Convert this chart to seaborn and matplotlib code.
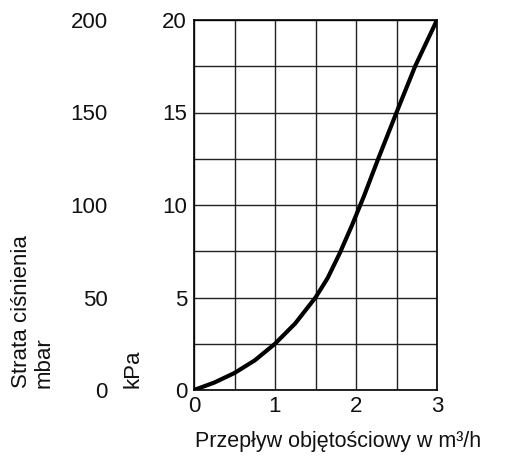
import matplotlib
matplotlib.use("Agg")
import matplotlib.pyplot as plt
import numpy as np
import pandas as pd
import seaborn as sns

# Pressure drop curve: volume flow (m³/h) vs. pressure loss (kPa)
flow = [0.0, 0.25, 0.5, 0.75, 1.0, 1.25, 1.5, 1.65, 1.8, 1.95, 2.1, 2.27, 2.5, 2.73, 3.0]
loss_kpa = [0.0, 0.4, 0.92, 1.6, 2.5, 3.6, 5.0, 6.05, 7.4, 8.9, 10.5, 12.45, 15.0, 17.5, 20.0]

x_ticks = [0, 1, 2, 3]
kpa_ticks = [0, 5, 10, 15, 20]
mbar_ticks = [0, 50, 100, 150, 200]

x_label = "Przepływ objętościowy w m³/h"
kpa_label = "kPa"
mbar_label = "Strata ciśnienia\nmbar"

sns.set_theme(style="white")
plt.rcParams["font.family"] = ["Liberation Sans", "DejaVu Sans"]

FS = 16
TXT = "#111111"

df = pd.DataFrame({"flow": flow, "loss": loss_kpa})

fig = plt.figure(figsize=(5.16, 4.57), dpi=100)
ax = fig.add_axes([194 / 516, 1 - 390 / 457, 243 / 516, 370 / 457])

sns.lineplot(data=df, x="flow", y="loss", ax=ax, color="black", linewidth=3.0,
             solid_capstyle="round", solid_joinstyle="round", zorder=5)

ax.set_xlim(0, 3)
ax.set_ylim(0, 20)
ax.set_xticks(x_ticks)
ax.set_xticks(np.arange(0, 3.01, 0.5), minor=True)
ax.set_yticks(kpa_ticks)
ax.set_yticks(np.arange(0, 20.01, 2.5), minor=True)
ax.grid(True, which="both", color="#222222", linewidth=1.0)
ax.tick_params(axis="both", which="both", length=0, labelsize=FS, colors=TXT)
ax.tick_params(axis="y", pad=5)
ax.tick_params(axis="x", pad=4)
for sp in ax.spines.values():
    sp.set_color("black")
    sp.set_linewidth(1.2)
ax.set_xlabel("")
ax.set_ylabel("")

# Secondary mbar scale further left
ax2 = ax.twinx()
ax2.set_ylim(0, 200)
ax2.set_yticks(mbar_ticks)
ax2.yaxis.tick_left()
ax2.tick_params(axis="y", length=0, labelsize=FS, pad=62, colors=TXT)
for sp in ax2.spines.values():
    sp.set_visible(False)
ax2.grid(False)

fig.text(195 / 516, 1 - 441 / 457, x_label, fontsize=15.5, ha="left", va="center",
         color=TXT)
fig.text(122 / 516, 1 - 388 / 457, kpa_label, fontsize=FS, rotation=90,
         ha="left", va="bottom", color=TXT)
fig.text(11 / 516, 1 - 388 / 457, mbar_label, fontsize=FS, rotation=90,
         ha="left", va="bottom", multialignment="left", linespacing=1.1,
         color=TXT)

fig.savefig("out.png", dpi=100)
